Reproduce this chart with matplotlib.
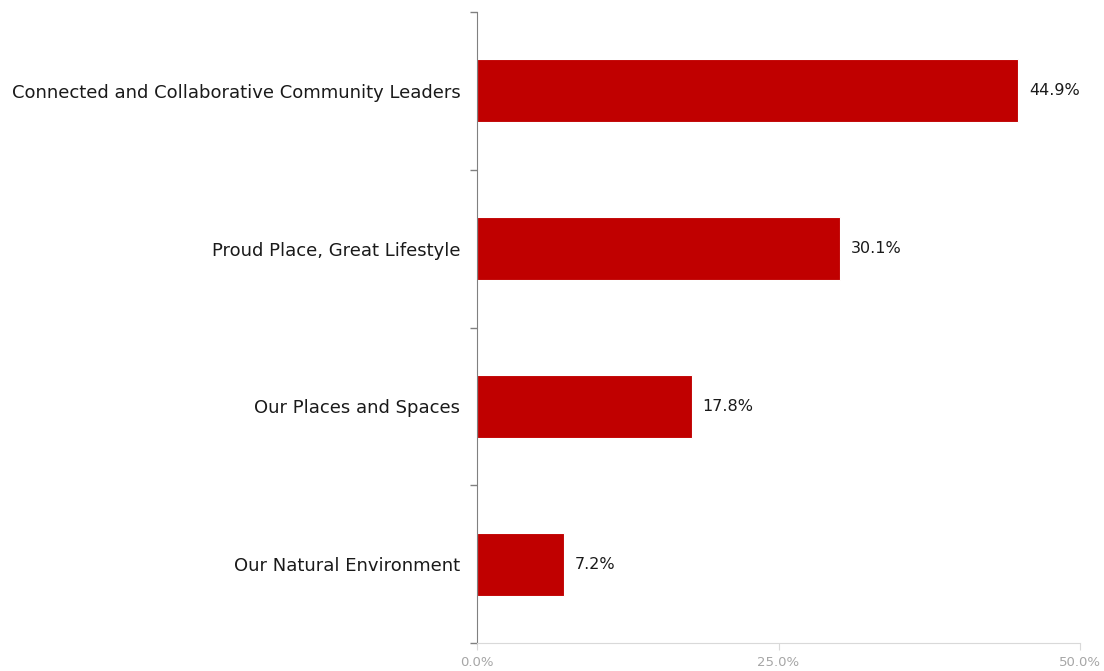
import matplotlib
matplotlib.use("Agg")
import matplotlib.pyplot as plt
from matplotlib.ticker import FuncFormatter, FixedLocator

categories = ["Connected and Collaborative Community Leaders",
              "Proud Place, Great Lifestyle",
              "Our Places and Spaces",
              "Our Natural Environment"]
values = [44.9, 30.1, 17.8, 7.2]
xticks = [0, 25, 50]

plt.rcParams['font.family'] = ['DejaVu Sans']

fig = plt.figure(figsize=(11.04, 6.71), dpi=100)
ax = fig.add_axes([477/1104, 1-643/671, (1080-477)/1104, (643-12)/671])

ypos = list(range(len(categories)))
ax.barh(ypos, values, height=0.4, color="#C00000", edgecolor="white", linewidth=0.8)
ax.set_ylim(len(categories)-0.5, -0.5)
ax.set_xlim(0, 50)

ax.set_yticks(ypos)
ax.set_yticklabels(categories, fontsize=13, color="#1A1A1A")
ax.yaxis.set_minor_locator(FixedLocator([i-0.5 for i in range(len(categories)+1)]))
ax.tick_params(axis='y', which='major', length=0, pad=12)
ax.tick_params(axis='y', which='minor', length=5, color="#808080", width=1)

ax.set_xticks(xticks)
ax.xaxis.set_major_formatter(FuncFormatter(lambda v, p: f"{v:.1f}%"))
ax.tick_params(axis='x', length=5, color="#D9D9D9", labelcolor="#A6A6A6", labelsize=9.5, pad=4)

for s in ["top", "right"]:
    ax.spines[s].set_visible(False)
ax.spines["left"].set_color("#808080")
ax.spines["bottom"].set_color("#D9D9D9")

for y, v in zip(ypos, values):
    ax.text(v + 0.9, y, f"{v:.1f}%", va="center", ha="left", fontsize=11.5,
            color="#1A1A1A")

fig.savefig("out.png", dpi=100)
